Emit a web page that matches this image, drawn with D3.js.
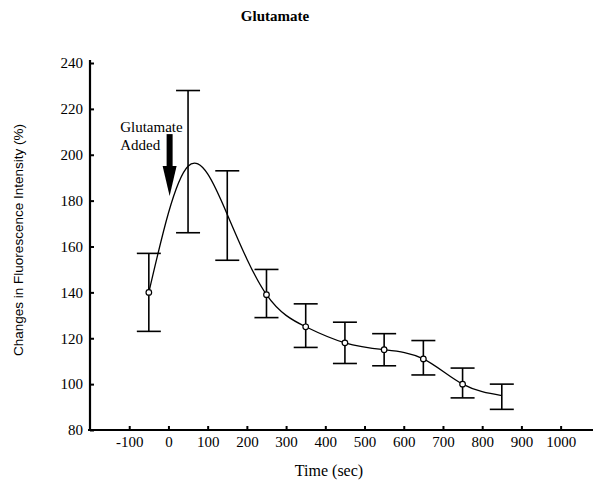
<!DOCTYPE html>
<meta charset="utf-8">
<style>
body { margin: 0; background: #fff; }
svg { display: block; }
.tick text { font-family: "Liberation Serif", "Times New Roman", serif; font-size: 15px; fill: #000; }
.tick line { stroke: #000; stroke-width: 2; }
</style>
<svg width="593" height="482"></svg>
<script src="https://d3js.org/d3.v7.min.js"></script>
<script>
// data
var times = [-50, 50, 150, 250, 350, 450, 550, 650, 750, 850];
var means = [140, 195, 174, 139, 125, 118, 115, 111, 100, 95];
var upper = [157, 228, 193, 150, 135, 127, 122, 119, 107, 100];
var lower = [123, 166, 154, 129, 116, 109, 108, 104, 94, 89];
var marked = [true, false, false, true, true, true, true, true, true, false];
var xTicks = [-100, 0, 100, 200, 300, 400, 500, 600, 700, 800, 900, 1000];
var yTicks = [80, 100, 120, 140, 160, 180, 200, 220, 240];

var svg = d3.select("svg");

var x = d3.scaleLinear().domain([-200, 1080]).range([90, 592]),
    y = d3.scaleLinear().domain([80, 240]).range([430, 63]);

// title
svg.append("text")
    .attr("x", 275).attr("y", 21)
    .attr("text-anchor", "middle")
    .style("font-family", "Liberation Serif, serif")
    .style("font-weight", "bold")
    .style("font-size", "15px")
    .text("Glutamate");

// axes
var gx = svg.append("g")
    .attr("transform", "translate(0," + y(80) + ")")
    .call(d3.axisBottom(x).tickValues(xTicks).tickFormat(function(d) { return String(d); })
        .tickSizeInner(-4).tickSizeOuter(0).tickPadding(6));
gx.select(".domain").remove();

var gy = svg.append("g")
    .attr("transform", "translate(" + x(-200) + ",0)")
    .call(d3.axisLeft(y).tickValues(yTicks)
        .tickSizeInner(-4).tickSizeOuter(0).tickPadding(7));
gy.select(".domain").remove();

svg.append("line")
    .attr("x1", 88).attr("x2", 593)
    .attr("y1", y(80)).attr("y2", y(80))
    .attr("stroke", "#000").attr("stroke-width", 2.2);
svg.append("line")
    .attr("x1", x(-200)).attr("x2", x(-200))
    .attr("y1", 60).attr("y2", y(80) + 1)
    .attr("stroke", "#000").attr("stroke-width", 2.2);

svg.append("text")
    .attr("x", 329).attr("y", 476)
    .attr("text-anchor", "middle")
    .style("font-family", "Liberation Serif, serif")
    .style("font-size", "16px")
    .text("Time (sec)");

svg.append("text")
    .attr("transform", "translate(23," + 240 + ") rotate(-90)")
    .attr("text-anchor", "middle")
    .style("font-family", "Liberation Sans, Arial, sans-serif")
    .style("font-size", "13.5px")
    .text("Changes in Fluorescence Intensity (%)");

// error bars
var bars = svg.append("g").attr("stroke", "#000").attr("stroke-width", 1.6);
times.forEach(function(t, i) {
  var cx = x(t);
  bars.append("line").attr("x1", cx).attr("x2", cx).attr("y1", y(upper[i])).attr("y2", y(lower[i]));
  bars.append("line").attr("x1", cx - 12).attr("x2", cx + 12).attr("y1", y(upper[i])).attr("y2", y(upper[i]));
  bars.append("line").attr("x1", cx - 12).attr("x2", cx + 12).attr("y1", y(lower[i])).attr("y2", y(lower[i]));
});

// smoothed curve through means
var pts = times.map(function(t, i) { return [t, means[i]]; });
var line = d3.line()
    .x(function(d) { return x(d[0]); })
    .y(function(d) { return y(d[1]); })
    .curve(d3.curveNatural);
svg.append("path")
    .datum(pts)
    .attr("d", line)
    .attr("fill", "none")
    .attr("stroke", "#000")
    .attr("stroke-width", 1.3);

svg.selectAll("circle.pt")
    .data(pts.filter(function(d, i) { return marked[i]; }))
    .enter().append("circle")
    .attr("class", "pt")
    .attr("cx", function(d) { return x(d[0]); })
    .attr("cy", function(d) { return y(d[1]); })
    .attr("r", 2.8)
    .attr("fill", "#fff")
    .attr("stroke", "#000")
    .attr("stroke-width", 1.2);

// "Glutamate Added" arrow
var ax = x(3), tail = y(209), tip = y(182), head = tip - 30;
svg.append("rect")
    .attr("x", ax - 3).attr("y", tail)
    .attr("width", 6).attr("height", head - tail + 1)
    .attr("fill", "#000");
svg.append("path")
    .attr("d", "M" + (ax - 7) + "," + head + "L" + (ax + 7) + "," + head + "L" + ax + "," + tip + "Z")
    .attr("fill", "#000");

var note = svg.append("text")
    .style("font-family", "Liberation Serif, serif")
    .style("font-size", "15px");
note.append("tspan").attr("x", x(-123)).attr("y", y(210)).text("Glutamate");
note.append("tspan").attr("x", x(-123)).attr("y", y(202)).text("Added");
</script>
